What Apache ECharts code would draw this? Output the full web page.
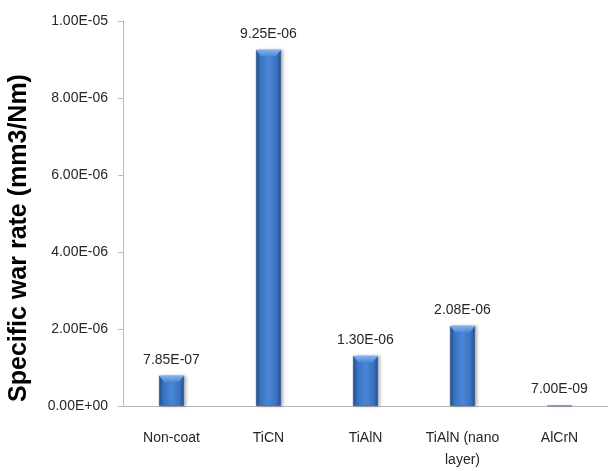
<!DOCTYPE html>
<html>
<head>
<meta charset="utf-8">
<script src="https://cdn.jsdelivr.net/npm/echarts@6/dist/echarts.min.js"></script>
<style>
  html, body { margin: 0; padding: 0; background: #fff; }
  #chart { width: 608px; height: 471px; }
</style>
</head>
<body>
<div id="chart"></div>
<script>
// Coating types and their specific wear rate (mm3/Nm)
const categories = ['Non-coat', 'TiCN', 'TiAlN', 'TiAlN (nano\nlayer)', 'AlCrN'];
const wearRates = [7.85e-7, 9.25e-6, 1.30e-6, 2.08e-6, 7.00e-9];
const axisTitle = 'Specific war rate (mm3/Nm)';

// Scientific notation in the style "9.25E-06"
function sci(v) {
  const s = Number(v).toExponential(2);
  const [m, e] = s.split('e');
  const sign = e[0] === '-' ? '-' : '+';
  const digits = e.replace(/[+-]/, '').padStart(2, '0');
  return m + 'E' + sign + digits;
}

const font = '"Liberation Sans", Arial, sans-serif';
const BAR_W = 25;
const chart = echarts.init(document.getElementById('chart'));

const barFill = new echarts.graphic.LinearGradient(0, 0, 1, 0, [
  { offset: 0, color: '#24508e' },
  { offset: 0.18, color: '#3a73c0' },
  { offset: 0.5, color: '#4987d6' },
  { offset: 0.82, color: '#3a73c0' },
  { offset: 1, color: '#24508e' }
]);

// Bevelled top cap drawn over each bar, positioned from the value scale
function renderCap(params, api) {
  const top = api.coord([api.value(0), api.value(1)]);
  const base = api.coord([api.value(0), 0]);
  const h = Math.min(6, base[1] - top[1]);
  if (h < 1.5) return null;
  const x0 = top[0] - BAR_W / 2, x1 = top[0] + BAR_W / 2;
  const inset = Math.min(5, h);
  return {
    type: 'polygon',
    shape: { points: [[x0, top[1]], [x1, top[1]], [x1 - inset, top[1] + h], [x0 + inset, top[1] + h]] },
    style: {
      fill: new echarts.graphic.LinearGradient(0, 0, 0, 1, [
        { offset: 0, color: '#7fb2ee' },
        { offset: 1, color: '#4f8ed9' }
      ])
    }
  };
}

chart.setOption({
  animation: false,
  backgroundColor: '#ffffff',
  grid: { left: 123, right: -5, top: 21, bottom: 61 },
  xAxis: {
    type: 'category',
    data: categories,
    axisLine: { lineStyle: { color: '#b8b8b8', width: 1 } },
    axisTick: { show: false },
    axisLabel: {
      color: '#262626', fontFamily: font, fontSize: 14,
      margin: 21, lineHeight: 22, interval: 0
    }
  },
  yAxis: {
    type: 'value',
    min: 0, max: 1e-5, interval: 2e-6,
    splitLine: { show: false },
    axisLine: { show: true, lineStyle: { color: '#b8b8b8', width: 1 } },
    axisTick: { show: true, inside: false, length: 5, lineStyle: { color: '#b8b8b8' } },
    axisLabel: {
      color: '#262626', fontFamily: font, fontSize: 14, margin: 15,
      formatter: v => sci(v)
    }
  },
  graphic: [{
    type: 'text',
    rotation: Math.PI / 2,
    x: 19, y: 238,
    style: {
      text: axisTitle,
      font: 'bold 25px ' + font,
      fill: '#000',
      textAlign: 'center',
      textVerticalAlign: 'middle'
    }
  }],
  series: [{
    type: 'bar',
    data: wearRates,
    barWidth: BAR_W,
    itemStyle: {
      color: barFill,
      borderColor: '#2a5595',
      borderWidth: 0.5,
      shadowColor: 'rgba(0,0,0,0.25)',
      shadowBlur: 3,
      shadowOffsetX: 2,
      shadowOffsetY: 0
    },
    label: {
      show: true,
      position: 'top',
      distance: 9,
      color: '#262626',
      fontFamily: font,
      fontSize: 14,
      formatter: p => sci(p.value)
    }
  }, {
    type: 'custom',
    renderItem: renderCap,
    data: wearRates.map((v, i) => [i, v]),
    encode: { x: 0, y: 1 },
    silent: true,
    z: 3
  }]
});
</script>
</body>
</html>
